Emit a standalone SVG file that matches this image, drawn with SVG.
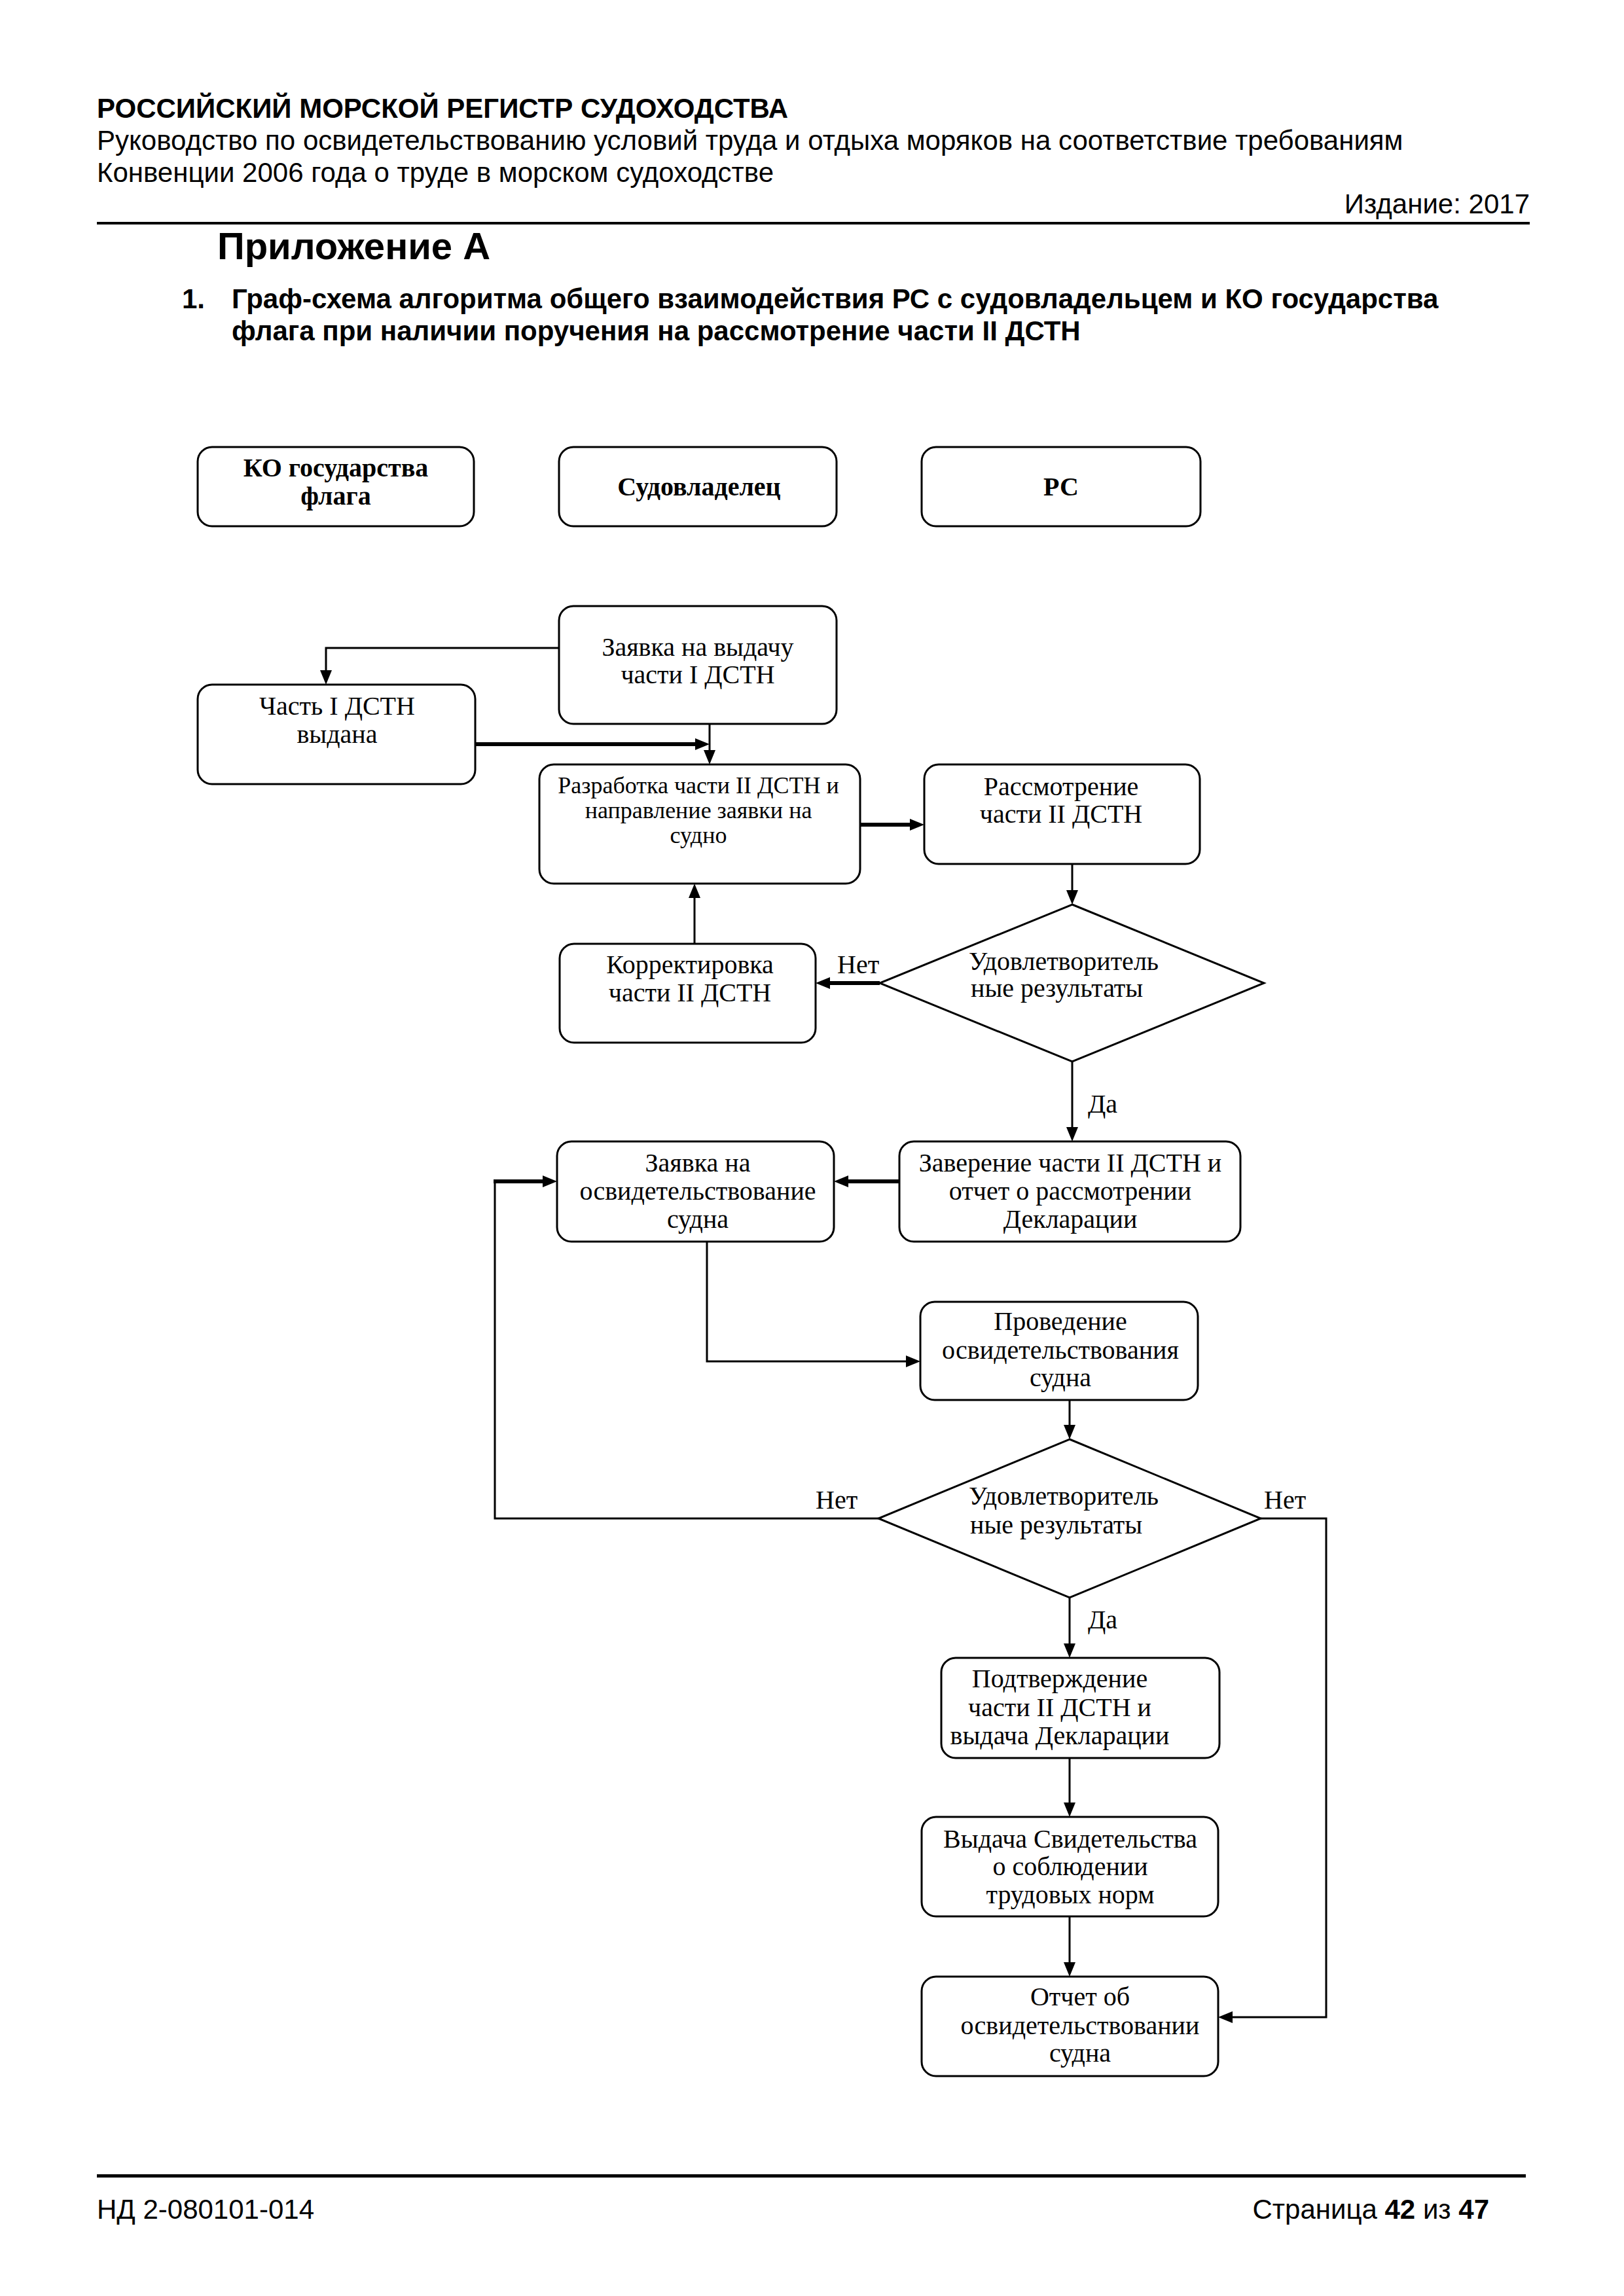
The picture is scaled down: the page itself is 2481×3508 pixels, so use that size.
<svg xmlns="http://www.w3.org/2000/svg" width="2481" height="3508" viewBox="0 0 2481 3508">
<style>
.pg{font-family:"Liberation Sans",Arial,sans-serif;font-size:42px;fill:#000}
.b{font-weight:bold}
.box{fill:none;stroke:#000;stroke-width:3}
.t{font-family:"Liberation Serif","Times New Roman",serif;font-size:40px;fill:#000;text-anchor:middle}
.ts{font-size:36px}
.l{font-family:"Liberation Serif","Times New Roman",serif;font-size:40px;fill:#000}
.ln{fill:none;stroke:#000;stroke-width:3}
.bd{stroke-width:6}
.arr{marker-end:url(#ah)}
</style>
<defs>
<marker id="ah" markerUnits="userSpaceOnUse" viewBox="0 0 22 18" refX="12" refY="9" markerWidth="22" markerHeight="18" orient="auto">
<path d="M0,0 L22,9 L0,18 z" fill="#000"/>
</marker>
</defs>
<rect width="2481" height="3508" fill="#fff"/>
<g id="page-header">
<text class="pg b" x="148" y="180">РОССИЙСКИЙ МОРСКОЙ РЕГИСТР СУДОХОДСТВА</text>
<text class="pg" x="148" y="229">Руководство по освидетельствованию условий труда и отдыха моряков на соответствие требованиям</text>
<text class="pg" x="148" y="278">Конвенции 2006 года о труде в морском судоходстве</text>
<text class="pg" x="2337" y="326" text-anchor="end">Издание: 2017</text>
<rect x="148" y="339" width="2189" height="4" fill="#000"/>
<text class="pg b" x="332" y="396" style="font-size:58px">Приложение А</text>
<text class="pg b" x="278" y="471">1.</text>
<text class="pg b" x="354" y="471">Граф-схема алгоритма общего взаимодействия РС с судовладельцем и КО государства</text>
<text class="pg b" x="354" y="520">флага при наличии поручения на рассмотрение части II ДСТН</text>
</g>
<g id="lane-ko">
<rect class="box" x="302" y="683" width="422" height="121" rx="22"/>
<text class="t b" x="513" y="728">КО государства</text>
<text class="t b" x="513" y="771">флага</text>
</g>
<g id="lane-owner">
<rect class="box" x="854" y="683" width="424" height="121" rx="22"/>
<text class="t b" x="1068" y="757">Судовладелец</text>
</g>
<g id="lane-rs">
<rect class="box" x="1408" y="683" width="426" height="121" rx="22"/>
<text class="t b" x="1621" y="757">РС</text>
</g>
<g id="n-zayavka1">
<rect class="box" x="854" y="926" width="424" height="180" rx="22"/>
<text class="t" x="1066" y="1002">Заявка на выдачу</text>
<text class="t" x="1066" y="1044">части I ДСТН</text>
</g>
<g id="n-chast1">
<rect class="box" x="302" y="1046" width="424" height="152" rx="22"/>
<text class="t" x="515" y="1092">Часть I ДСТН</text>
<text class="t" x="515" y="1135">выдана</text>
</g>
<g id="n-razrab">
<rect class="box" x="824" y="1168" width="490" height="182" rx="22"/>
<text class="t ts" x="1067" y="1212">Разработка части II ДСТН  и</text>
<text class="t ts" x="1067" y="1250">направление заявки  на</text>
<text class="t ts" x="1067" y="1288">судно</text>
</g>
<g id="n-rassm">
<rect class="box" x="1412" y="1168" width="421" height="152" rx="22"/>
<text class="t" x="1621" y="1215">Рассмотрение</text>
<text class="t" x="1621" y="1257">части II ДСТН</text>
</g>
<g id="d-1">
<polygon class="box" points="1638,1382 1931,1502 1638,1622 1344,1502"/>
<text class="l" x="1480" y="1482">Удовлетворитель</text>
<text class="l" x="1483" y="1523">ные результаты</text>
</g>
<g id="n-korr">
<rect class="box" x="855" y="1442" width="391" height="151" rx="22"/>
<text class="t" x="1054" y="1487">Корректировка</text>
<text class="t" x="1054" y="1530">части II ДСТН</text>
</g>
<g id="n-zaver">
<rect class="box" x="1374" y="1744" width="521" height="153" rx="22"/>
<text class="t" x="1635" y="1790">Заверение части II ДСТН и</text>
<text class="t" x="1635" y="1833">отчет о рассмотрении</text>
<text class="t" x="1635" y="1876">Декларации</text>
</g>
<g id="n-zayavka2">
<rect class="box" x="851" y="1744" width="423" height="153" rx="22"/>
<text class="t" x="1066" y="1790">Заявка на</text>
<text class="t" x="1066" y="1833">освидетельствование</text>
<text class="t" x="1066" y="1876">судна</text>
</g>
<g id="n-proved">
<rect class="box" x="1406" y="1989" width="424" height="150" rx="22"/>
<text class="t" x="1620" y="2032">Проведение</text>
<text class="t" x="1620" y="2076">освидетельствования</text>
<text class="t" x="1620" y="2118">судна</text>
</g>
<g id="d-2">
<polygon class="box" points="1634,2199 1926,2320 1634,2441 1342,2320"/>
<text class="l" x="1480" y="2299">Удовлетворитель</text>
<text class="l" x="1482" y="2343">ные результаты</text>
</g>
<g id="n-podtv">
<rect class="box" x="1438" y="2533" width="425" height="153" rx="22"/>
<text class="t" x="1619" y="2578">Подтверждение</text>
<text class="t" x="1619" y="2622">части II ДСТН и</text>
<text class="t" x="1619" y="2665">выдача Декларации</text>
</g>
<g id="n-vydacha">
<rect class="box" x="1408" y="2776" width="453" height="152" rx="22"/>
<text class="t" x="1635" y="2823">Выдача Свидетельства</text>
<text class="t" x="1635" y="2865">о соблюдении</text>
<text class="t" x="1635" y="2908">трудовых норм</text>
</g>
<g id="n-otchet">
<rect class="box" x="1408" y="3020" width="453" height="152" rx="22"/>
<text class="t" x="1650" y="3064">Отчет об</text>
<text class="t" x="1650" y="3108">освидетельствовании</text>
<text class="t" x="1650" y="3150">судна</text>
</g>
<g id="connectors">
<path class="ln arr" d="M854,990 H498 V1036"/>
<path class="ln bd arr" d="M726,1137 H1074"/>
<path class="ln arr" d="M1084,1106 V1158"/>
<path class="ln bd arr" d="M1314,1260 H1402"/>
<path class="ln arr" d="M1638,1320 V1372"/>
<path class="ln bd arr" d="M1344,1502 H1256"/>
<path class="ln arr" d="M1061,1442 V1360"/>
<path class="ln arr" d="M1638,1622 V1734"/>
<path class="ln bd arr" d="M1374,1805 H1284"/>
<path class="ln arr" d="M1080,1897 V2080 H1396"/>
<path class="ln arr" d="M1634,2139 V2189"/>
<path class="ln" d="M1342,2320 H756 V1805"/>
<path class="ln bd arr" d="M754,1805 H841"/>
<path class="ln arr" d="M1926,2320 H2026 V3082 H1871"/>
<path class="ln arr" d="M1634,2441 V2523"/>
<path class="ln arr" d="M1634,2686 V2766"/>
<path class="ln arr" d="M1634,2928 V3010"/>
<text class="l" x="1279" y="1487">Нет</text>
<text class="l" x="1662" y="1700">Да</text>
<text class="l" x="1246" y="2305">Нет</text>
<text class="l" x="1931" y="2305">Нет</text>
<text class="l" x="1662" y="2488">Да</text>
</g>
<g id="page-footer">
<rect x="148" y="3322" width="2183" height="5" fill="#000"/>
<text class="pg" x="148" y="3390">НД 2-080101-014</text>
<text class="pg" x="2275" y="3390" text-anchor="end">Страница <tspan class="b">42</tspan> из <tspan class="b">47</tspan></text>
</g>
</svg>
